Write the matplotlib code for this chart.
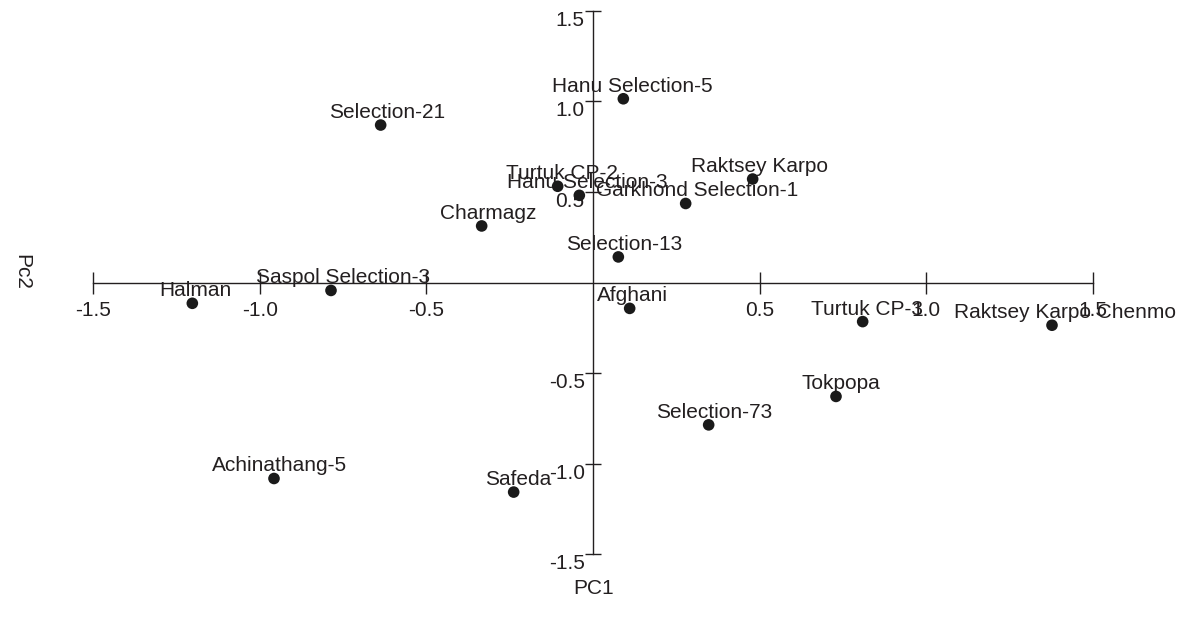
import matplotlib
matplotlib.use("Agg")
import matplotlib.pyplot as plt

# ---- data ----
names = ["Hanu Selection-5", "Selection-21", "Turtuk CP-2", "Hanu Selection-3",
         "Garkhond Selection-1", "Raktsey Karpo", "Charmagz", "Selection-13",
         "Saspol Selection-3", "Halman", "Afghani", "Turtuk CP-3",
         "Raktsey Karpo Chenmo", "Tokpopa", "Selection-73", "Achinathang-5", "Safeda"]
pc1 = [0.091, -0.637, -0.106, -0.041, 0.278, 0.479, -0.334, 0.076,
       -0.786, -1.202, 0.110, 0.809, 1.377, 0.729, 0.347, -0.957, -0.238]
pc2 = [1.015, 0.870, 0.532, 0.482, 0.437, 0.572, 0.313, 0.142,
       -0.043, -0.114, -0.142, -0.215, -0.235, -0.628, -0.785, -1.081, -1.156]
xticks = [-1.5, -1.0, -0.5, 0.5, 1.0, 1.5]
yticks = [-1.5, -1.0, -0.5, 0.5, 1.0, 1.5]

# label horizontal offsets (pixels), style only
label_dx = [9, 6, 4, 8, 11, 7, 7, 6, 12, 3.5, 2.5, 4.3, 13, 5, 6, 6, 5]

plt.rcParams['font.family'] = ['Liberation Sans', 'DejaVu Sans']
txtc = '#231f20'
linec = '#231f20'

fig = plt.figure(figsize=(11.83, 6.18), dpi=100)
ax = fig.add_axes([93/1183, 1 - 554.4/618, 1000/1183, 543.5/618])
ax.set_xlim(-1.5, 1.5)
ax.set_ylim(-1.5, 1.5)

for s in ['top', 'right']:
    ax.spines[s].set_visible(False)
ax.spines['left'].set_position('zero')
ax.spines['bottom'].set_position('zero')
for s in ['left', 'bottom']:
    ax.spines[s].set_color(linec)
    ax.spines[s].set_linewidth(1.0)
    ax.spines[s].set_zorder(1)

ax.set_xticks(xticks)
ax.set_xticklabels([f"{v:.1f}" for v in xticks])
ax.set_yticks(yticks)
ax.set_yticklabels([f"{v:.1f}" for v in yticks])
ax.tick_params(axis='x', direction='inout', length=16, width=1.0, color=linec,
               labelsize=15, labelcolor=txtc, pad=5.5)
ax.tick_params(axis='y', direction='inout', length=12, width=1.0, color=linec,
               labelsize=15, labelcolor=txtc, pad=0)
for lab in ax.get_yticklabels():
    lab.set_va('top')

ax.scatter(pc1, pc2, s=70, color='#1a1a1a', zorder=4, edgecolors='none')
for n, x, y, dx in zip(names, pc1, pc2, label_dx):
    ax.annotate(n, (x, y), xytext=(dx, 7), textcoords='offset pixels',
                ha='center', va='baseline', fontsize=15, color=txtc, zorder=3)

fig.text(594/1183, 1 - 589/618, "PC1", ha='center', va='center', fontsize=15, color=txtc)
fig.text(22/1183, 1 - 272/618, "Pc2", ha='center', va='center', fontsize=15,
         color=txtc, rotation=270)

fig.savefig("out.png", dpi=100)
